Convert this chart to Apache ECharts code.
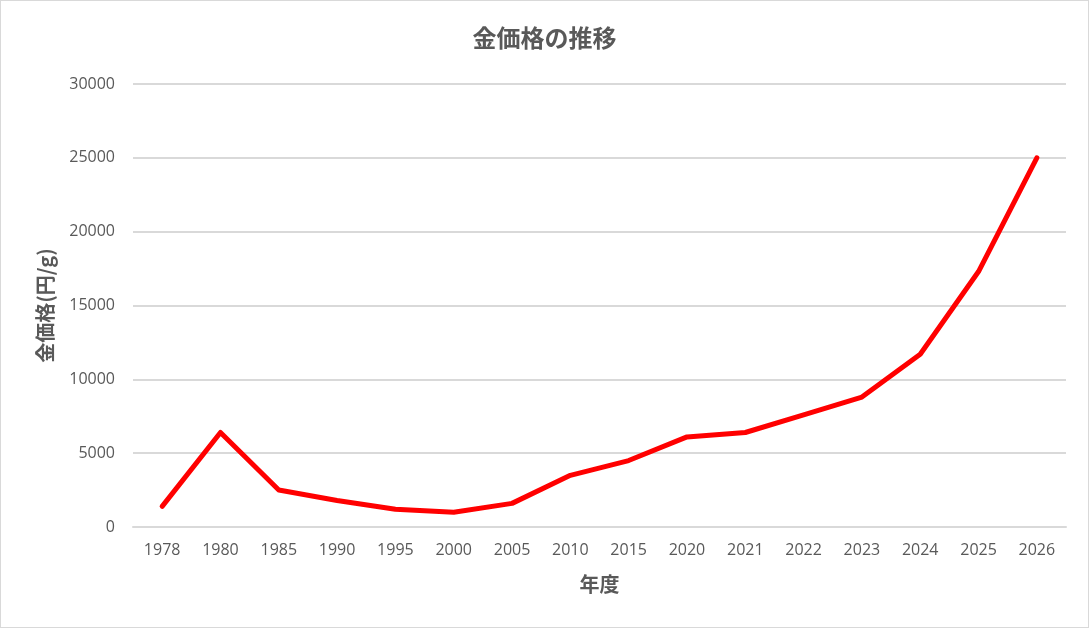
<!DOCTYPE html>
<html>
<head>
<meta charset="utf-8">
<script src="https://cdn.jsdelivr.net/npm/echarts@6/dist/echarts.min.js"></script>
<style>
  html, body { margin: 0; padding: 0; background: #fff; }
  #chart { width: 1087px; height: 626px; border: 1px solid #d9d9d9; }
</style>
</head>
<body>
<div id="chart"></div>
<script>
// 年度ごとの金価格 (円/g)
const years = ['1978', '1980', '1985', '1990', '1995', '2000', '2005', '2010',
  '2015', '2020', '2021', '2022', '2023', '2024', '2025', '2026'];
const goldPrice = [1400, 6400, 2500, 1800, 1200, 1000, 1600, 3500,
  4500, 6100, 6400, 7600, 8800, 11700, 17300, 25000];

const textColor = '#595959';
const fontFamily = '"Noto Sans CJK JP", "Noto Sans", sans-serif';
const numFont = '"Open Sans", "Noto Sans", sans-serif';

const chart = echarts.init(document.getElementById('chart'));

const option = {
  animation: false,
  textStyle: { fontFamily: fontFamily },
  title: {
    text: '金価格の推移',
    left: 'center',
    top: 20,
    textStyle: { fontSize: 24, fontWeight: 'bold', color: textColor, fontFamily: fontFamily },
  },
  grid: { left: 132, right: 22, top: 83, bottom: 100 },
  xAxis: {
    type: 'category',
    data: years,
    boundaryGap: true,
    name: '年度',
    nameLocation: 'middle',
    nameGap: 47,
    nameTextStyle: { fontSize: 20, fontWeight: 'bold', color: textColor },
    axisLine: { lineStyle: { color: '#d9d9d9', width: 2 } },
    axisTick: { show: false },
    axisLabel: { fontSize: 16, color: textColor, margin: 15, fontFamily: numFont },
  },
  yAxis: {
    type: 'value',
    min: 0,
    max: 30000,
    interval: 5000,
    name: '金価格(円/g)',
    nameLocation: 'middle',
    nameGap: 78,
    nameTextStyle: { fontSize: 20, fontWeight: 'bold', color: textColor },
    axisLine: { show: false },
    axisTick: { show: false },
    axisLabel: {
      fontSize: 16,
      color: textColor,
      margin: 18,
      fontFamily: numFont,
      formatter: (v) => String(v),
    },
    splitLine: { lineStyle: { color: '#d9d9d9', width: 2 } },
  },
  series: [
    {
      type: 'line',
      data: goldPrice,
      symbol: 'none',
      lineStyle: { color: '#ff0000', width: 5, cap: 'round', join: 'round' },
      itemStyle: { color: '#ff0000' },
    },
  ],
};

chart.setOption(option);
</script>
</body>
</html>
